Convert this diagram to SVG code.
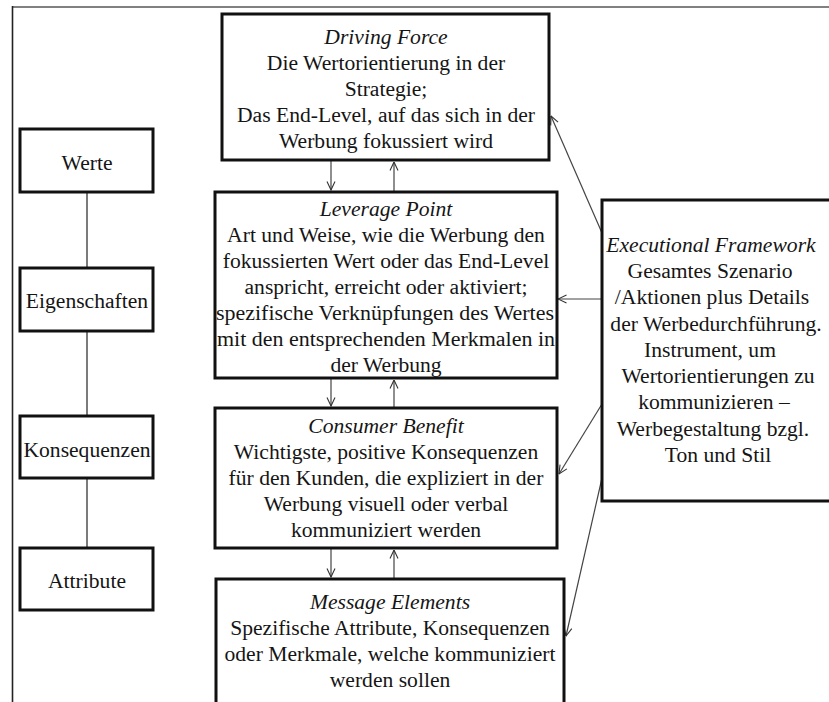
<svg xmlns="http://www.w3.org/2000/svg" width="829" height="702" viewBox="0 0 829 702">
  <defs>
    <marker id="open-arrow" viewBox="0 0 10 10" refX="9.5" refY="5" markerWidth="10" markerHeight="10" markerUnits="userSpaceOnUse" orient="auto">
      <path d="M1,1 L9.5,5 L1,9" fill="none" stroke="#333" stroke-width="1.1"/>
    </marker>
  </defs>
  <style>
    .box { fill: #fff; stroke: #111; stroke-width: 3; }
    .t { font-family: 'Liberation Serif', 'Noto Serif', 'Nimbus Roman', FreeSerif, 'DejaVu Serif', Tinos, 'Times New Roman', serif; font-size: 21.6px; fill: #151515; text-anchor: middle; }
    .it { font-style: italic; }
    .link { stroke: #222; stroke-width: 1.2; fill: none; }
    .arrow { stroke: #444; stroke-width: 1.2; fill: none; marker-end: url(#open-arrow); }
  </style>

  <rect width="829" height="702" fill="#fff"/>

  <!-- page frame -->
  <line x1="12" y1="7" x2="829" y2="7" stroke="#808080" stroke-width="2.2"/>
  <line x1="12.5" y1="6" x2="12.5" y2="702" stroke="#222" stroke-width="1.6"/>

  <!-- connectors -->
  <g id="connectors">
    <line class="link" x1="87" y1="192" x2="87" y2="268"/>
    <line class="link" x1="87" y1="331" x2="87" y2="416"/>
    <line class="link" x1="87" y1="478" x2="87" y2="548"/>

    <line class="arrow" x1="331" y1="161" x2="331" y2="190"/>
    <line class="arrow" x1="394" y1="191" x2="394" y2="162"/>
    <line class="arrow" x1="331" y1="379" x2="331" y2="406"/>
    <line class="arrow" x1="394" y1="407" x2="394" y2="380"/>
    <line class="arrow" x1="331" y1="549" x2="331" y2="577"/>
    <line class="arrow" x1="394" y1="578" x2="394" y2="550"/>

    <line class="arrow" x1="602" y1="233" x2="551" y2="116"/>
    <line class="arrow" x1="602" y1="299" x2="558" y2="299"/>
    <line class="arrow" x1="602" y1="404" x2="559" y2="474"/>
    <line class="arrow" x1="602" y1="478" x2="566" y2="636"/>
  </g>

  <!-- means-end chain levels -->
  <g id="werte">
    <rect class="box" x="20" y="129" width="133" height="63"/>
    <text class="t" x="87" y="170">Werte</text>
  </g>
  <g id="eigenschaften">
    <rect class="box" x="20" y="268" width="133" height="63"/>
    <text class="t" x="87" y="308">Eigenschaften</text>
  </g>
  <g id="konsequenzen">
    <rect class="box" x="20" y="416" width="133" height="62"/>
    <text class="t" x="87" y="457">Konsequenzen</text>
  </g>
  <g id="attribute">
    <rect class="box" x="20" y="548" width="133" height="62"/>
    <text class="t" x="87" y="588">Attribute</text>
  </g>

  <!-- MECCAS components -->
  <g id="driving-force">
    <rect class="box" x="222" y="14" width="327" height="146"/>
    <text class="t it" x="386" y="44">Driving Force</text>
    <text class="t" x="386" y="70">Die Wertorientierung in der</text>
    <text class="t" x="386" y="96">Strategie;</text>
    <text class="t" x="386" y="122">Das End-Level, auf das sich in der</text>
    <text class="t" x="386" y="148">Werbung fokussiert wird</text>
  </g>

  <g id="leverage-point">
    <rect class="box" x="215" y="192" width="342" height="186"/>
    <text class="t it" x="386" y="216">Leverage Point</text>
    <text class="t" x="386" y="242">Art und Weise, wie die Werbung den</text>
    <text class="t" x="386" y="268">fokussierten Wert oder das End-Level</text>
    <text class="t" x="386" y="294">anspricht, erreicht oder aktiviert;</text>
    <text class="t" x="385" y="320" textLength="338" lengthAdjust="spacingAndGlyphs">spezifische Verknüpfungen des Wertes</text>
    <text class="t" x="386" y="346" textLength="338" lengthAdjust="spacingAndGlyphs">mit den entsprechenden Merkmalen in</text>
    <text class="t" x="386" y="372">der Werbung</text>
  </g>

  <g id="consumer-benefit">
    <rect class="box" x="215" y="408" width="342" height="140"/>
    <text class="t it" x="386" y="433">Consumer Benefit</text>
    <text class="t" x="386" y="459">Wichtigste, positive Konsequenzen</text>
    <text class="t" x="386" y="485">für den Kunden, die expliziert in der</text>
    <text class="t" x="386" y="511">Werbung visuell oder verbal</text>
    <text class="t" x="386" y="537">kommuniziert werden</text>
  </g>

  <g id="message-elements">
    <rect class="box" x="216" y="579" width="348" height="130"/>
    <text class="t it" x="390" y="609">Message Elements</text>
    <text class="t" x="390" y="635">Spezifische Attribute, Konsequenzen</text>
    <text class="t" x="390" y="661">oder Merkmale, welche kommuniziert</text>
    <text class="t" x="390" y="687">werden sollen</text>
  </g>

  <g id="executional-framework">
    <rect class="box" x="602" y="200" width="240" height="301"/>
    <text class="t it" x="711" y="252">Executional Framework</text>
    <text class="t" x="710" y="278">Gesamtes Szenario</text>
    <text class="t" x="712" y="304">/Aktionen plus Details</text>
    <text class="t" x="716" y="331">der Werbedurchführung.</text>
    <text class="t" x="710" y="357">Instrument, um</text>
    <text class="t" x="718" y="383">Wertorientierungen zu</text>
    <text class="t" x="714" y="409">kommunizieren –</text>
    <text class="t" x="713" y="436">Werbegestaltung bzgl.</text>
    <text class="t" x="718" y="462">Ton und Stil</text>
  </g>
</svg>
